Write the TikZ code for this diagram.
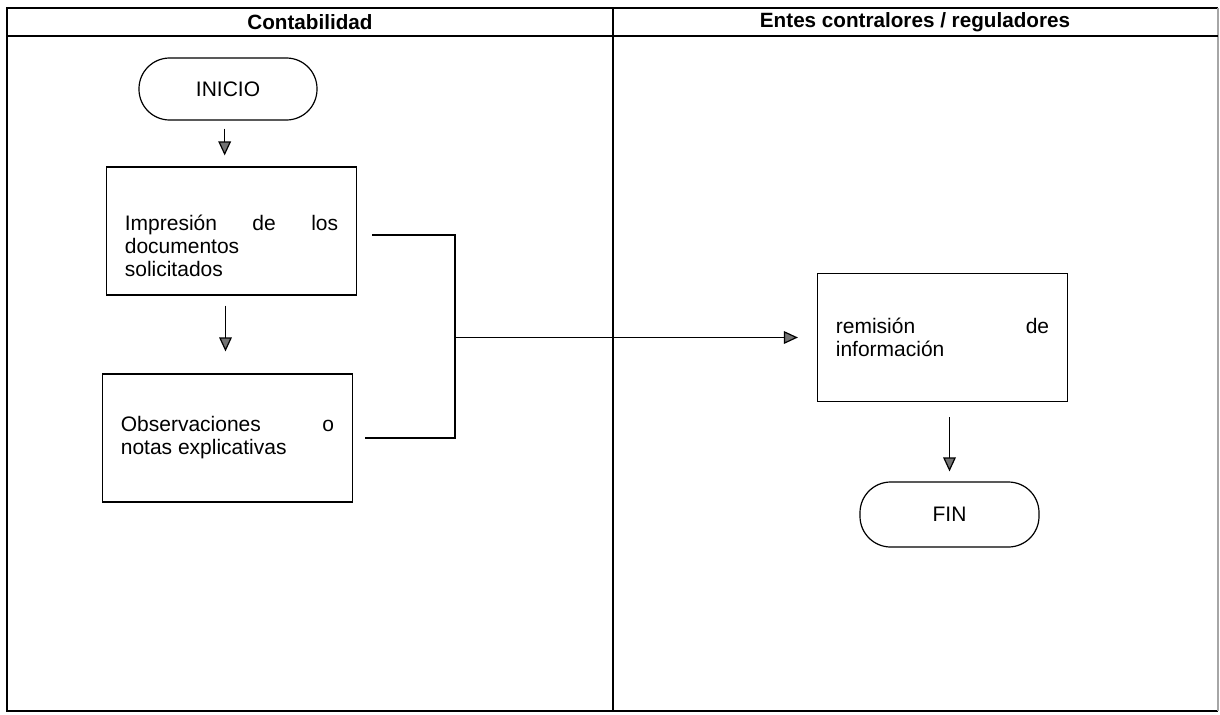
\documentclass[tikz,border=0pt]{standalone}
\usepackage{fontspec}
\setmainfont{Liberation Sans}
\usetikzlibrary{arrows.meta, positioning, calc}

\begin{document}
\begin{tikzpicture}[
  x=0.75pt, y=-0.75pt,
  lane/.style={line width=1pt},
  header/.style={font=\bfseries\fontsize{15.5}{17}\selectfont},
  terminal/.style={rectangle, rounded corners=23pt, draw, line width=0.9pt,
                   font=\fontsize{15.75}{17.25}\selectfont},
  paso/.style={rectangle, draw, line width=0.9pt, minimum width=188pt,
               minimum height=96pt, text width=160pt, inner sep=0pt,
               align=justify, font=\fontsize{15.75}{17.25}\selectfont},
  linea/.style={line width=0.9pt},
  flecha/.style={-{Triangle[length=10.5pt, width=9.5pt, fill=black!55]}, line width=0.9pt}
]
  \useasboundingbox (0,0) rectangle (1220,714);

  \draw[lane] (1218,8) -- (7,8) -- (7,711) -- (1218,711);
  \draw[lane, black!35] (1218,8) -- (1218,711);
  \draw[lane] (7,36) -- (1218,36);
  \draw[lane] (613,8) -- (613,711);

  \node[header] (h1) at (310,22)  {Contabilidad};
  \node[header] (h2) at (915,22)  {Entes contralores / reguladores};

  \node[terminal, minimum width=133.5pt, minimum height=46.5pt] (inicio) at (228,89) {INICIO};
  \node[paso] (b1) at (231.5,231)   {\rule{0pt}{34pt}Impresión de los\linebreak documentos\\solicitados};
  \node[paso] (b2) at (227.5,438)   {Observaciones o\linebreak notas explicativas};
  \node[paso] (b3) at (942.5,337.5) {remisión de\linebreak información};
  \node[terminal, minimum width=134.25pt, minimum height=48.75pt] (fin) at (949.5,514.5) {FIN};
  \coordinate (j) at (455,337.5);

  \draw[flecha, shorten <=6pt, shorten >=8.25pt] ([xshift=-2.5pt]inicio.south) -- ([xshift=-2.5pt]inicio.south |- b1.north);
  \draw[flecha, shorten <=7.5pt, shorten >=16.5pt] ([xshift=-4.5pt]b1.south) -- ([xshift=-4.5pt]b1.south |- b2.north);
  \draw[linea, shorten <=11.25pt] ([yshift=-3pt]b1.east) -| (j);
  \draw[linea, shorten <=9pt] (b2.east) -| (j);
  \draw[flecha, shorten >=14pt] (j) -- (b3);
  \draw[flecha, shorten <=11.25pt, shorten >=7.5pt] (fin |- b3.south) -- (fin);
\end{tikzpicture}
\end{document}
